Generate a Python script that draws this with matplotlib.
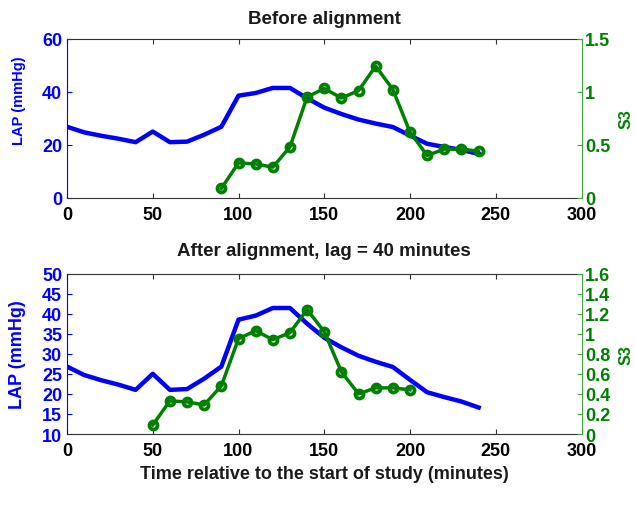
import matplotlib
matplotlib.use("Agg")
import matplotlib.pyplot as plt

plt.rcParams['font.family'] = ['Liberation Sans', 'DejaVu Sans']

# LAP series (mmHg), sampled every 10 minutes
lap_time = [0, 10, 20, 30, 40, 50, 60, 70, 80, 90, 100, 110, 120, 130, 140,
            150, 160, 170, 180, 190, 200, 210, 220, 230, 240]
lap_values = [26.8, 24.7, 23.4, 22.3, 21.0, 25.0, 21.0, 21.2, 23.8, 26.8, 38.5,
              39.5, 41.4, 41.4, 37.5, 34.0, 31.6, 29.5, 28.0, 26.7, 23.5, 20.4,
              19.2, 18.1, 16.6]

# S3 series
s3_time = [90, 100, 110, 120, 130, 140, 150, 160, 170, 180, 190, 200, 210, 220, 230, 240]
s3_values = [0.09, 0.33, 0.32, 0.29, 0.48, 0.95, 1.03, 0.94, 1.01, 1.24, 1.02,
             0.62, 0.40, 0.46, 0.46, 0.44]
lag = 40

x_ticks = [0, 50, 100, 150, 200, 250, 300]
top_lap_ticks = [0, 20, 40, 60]
top_s3_ticks = [0, 0.5, 1, 1.5]
bot_lap_ticks = [10, 15, 20, 25, 30, 35, 40, 45, 50]
bot_s3_ticks = [0, 0.2, 0.4, 0.6, 0.8, 1.0, 1.2, 1.4, 1.6]

blue = (0, 0, 1)
green = (0, 0.5, 0)
spine_green = (0.25, 0.65, 0.25)
axis_gray = (0.2, 0.2, 0.2)

fig = plt.figure(figsize=(6.35, 5.06), dpi=100)
W, H = 635.0, 506.0
X0, X1 = 67.0, 581.5


def make_panel(top_px, bot_px, title, title_pad, s3_t, lap_ylim, lap_ticks,
               s3_ylim, s3_ticks, lap_label_size, lap_label_y, xlabel=None):
    rect = [X0 / W, 1 - bot_px / H, (X1 - X0) / W, (bot_px - top_px) / H]
    ax = fig.add_axes(rect)
    ax.plot(lap_time, lap_values, color=blue, lw=3.2, solid_joinstyle='round')
    ax.set_xlim(0, 300)
    ax.set_ylim(*lap_ylim)
    ax.set_yticks(lap_ticks)
    ax.set_xticks(x_ticks)
    ax.tick_params(axis='both', direction='in', length=3.6, labelsize=13, width=0.8)
    ax.tick_params(axis='x', top=True, colors=axis_gray, labelcolor='black', pad=6)
    ax.tick_params(axis='y', colors=blue, labelcolor=blue, pad=3.5)
    for lbl in ax.get_xticklabels() + ax.get_yticklabels():
        lbl.set_fontweight('bold')
    ax.spines['left'].set_color(blue)
    ax.spines['top'].set_color(axis_gray)
    ax.spines['bottom'].set_color(axis_gray)
    ax.spines['right'].set_visible(False)
    ax.set_ylabel('LAP (mmHg)', color=blue, fontsize=lap_label_size, fontweight='bold')
    ax.yaxis.set_label_coords((26 - X0) / (X1 - X0), lap_label_y)
    ax.set_title(title, fontsize=13.5, fontweight='bold', color=(0.1, 0.1, 0.1),
                 pad=title_pad)
    if xlabel:
        ax.set_xlabel(xlabel, fontsize=13, fontweight='bold', color=(0.1, 0.1, 0.1))
        ax.xaxis.set_label_coords(0.5, -(466 - bot_px) / (bot_px - top_px))

    ax2 = ax.twinx()
    ax2.plot(s3_t, s3_values, color=green, lw=2.5, marker='o', markersize=5.8,
             markerfacecolor='none', markeredgewidth=2.7, markeredgecolor=green)
    ax2.set_ylim(*s3_ylim)
    ax2.set_yticks(s3_ticks)
    ax2.set_yticklabels([('%g' % v) for v in s3_ticks])
    ax2.tick_params(axis='y', direction='in', length=3.6, labelsize=13, width=0.8,
                    colors=spine_green, labelcolor=green, pad=2.5)
    for lbl in ax2.get_yticklabels():
        lbl.set_fontweight('bold')
    for s in ['left', 'top', 'bottom']:
        ax2.spines[s].set_visible(False)
    ax2.spines['right'].set_color(spine_green)
    ax2.set_ylabel('S3', color=green, fontsize=11.5, fontweight='bold')
    ax2.yaxis.set_label_coords((619 - X0) / (X1 - X0), 0.5)
    ax2.set_xlim(0, 300)
    return ax, ax2


make_panel(39.5, 199.0, 'Before alignment', 11, s3_time,
           (0, 60), top_lap_ticks, (0, 1.5), top_s3_ticks, 10.5, 0.614)

s3_time_aligned = [t - lag for t in s3_time]
make_panel(274.5, 435.0, 'After alignment, lag = %d minutes' % lag, 13,
           s3_time_aligned, (10, 50), bot_lap_ticks, (0, 1.6), bot_s3_ticks,
           13, 0.5, xlabel='Time relative to the start of study (minutes)')

fig.savefig('out.png', dpi=100)
